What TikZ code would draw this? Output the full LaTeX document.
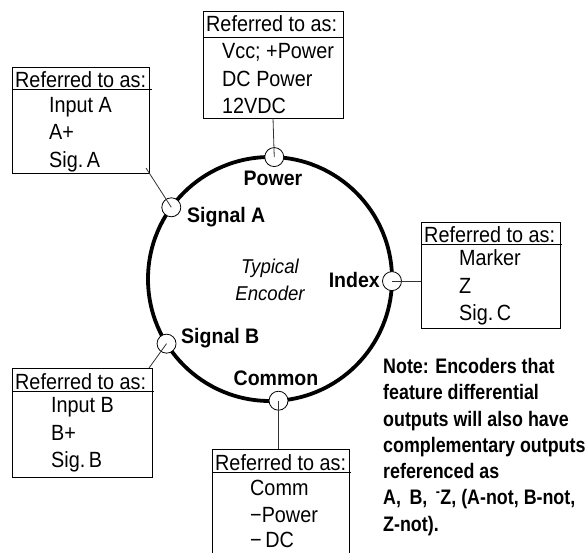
\documentclass[tikz,border=0pt]{standalone}
\usepackage{fontspec}
\setmainfont[FakeStretch=0.9]{Liberation Sans}
\newfontfamily\notefont[FakeStretch=0.85]{Liberation Sans}
\newfontfamily\lblfont[FakeStretch=0.93]{Liberation Sans}
\begin{document}
\begin{tikzpicture}[x=1pt,y=-1pt,
  refbox/.style={draw=black, line width=0.8pt, anchor=north west, inner sep=0pt, outer sep=0pt},
  hdrline/.style={draw=black, line width=0.8pt},
  hd/.style={anchor=base west, inner sep=0pt, font=\fontsize{22}{26}\selectfont},
  itm/.style={anchor=base west, inner sep=0pt, font=\fontsize{22}{26}\selectfont},
  lbl/.style={inner sep=0pt, font=\fontsize{21}{25}\lblfont\bfseries},
  enc/.style={draw=black, line width=3.8pt, circle, minimum size=244pt, inner sep=0pt, outer sep=0pt},
  pin/.style={draw=black, line width=0.8pt, fill=white, circle, minimum size=19pt, inner sep=0pt, outer sep=0pt},
  conn/.style={draw=black!80, line width=0.8pt},
  notel/.style={anchor=base west, inner sep=0pt, font=\fontsize{21}{25}\notefont\bfseries},
  ital/.style={anchor=base, inner sep=0pt, font=\fontsize{20}{24}\lblfont\itshape}
]
\clip (0,0) rectangle (588,552);
\fill[white] (0,0) rectangle (588,552);

% encoder body
\node[enc] (encoder) at (270,279) {};
\node[pin] (pw) at (encoder.88.6) {};
\node[pin] (sa) at (encoder.144.6) {};
\node[pin] (ix) at (encoder.-1.4) {};
\node[pin] (sb) at (encoder.212) {};
\node[pin] (cm) at (encoder.-86.7) {};

\node[ital] (typ) at (270,273) {Typical};
\node[ital] (encl) at (270,300) {Encoder};

\node[lbl, anchor=base] (lpw) at (273,185) {Power};
\node[lbl, anchor=base west] (lsa) at (187,222) {Signal A};
\node[lbl, anchor=base east] (lix) at (380,287) {Index};
\node[lbl, anchor=base west] (lsb) at (181,343) {Signal B};
\node[lbl, anchor=base] (lcm) at (276,385) {Common};

% box A
\node[refbox, minimum width=137pt, minimum height=106pt] (boxA) at (12,67) {};
\draw[hdrline] ([yshift=-22pt]boxA.north west) -- ([yshift=-22pt,xshift=3pt]boxA.north east);
\node[hd] (hA) at ([xshift=3pt,yshift=-20pt]boxA.north west) {Referred to as:};
\node[itm] (a1) at ([xshift=37pt,yshift=-45pt]boxA.north west) {Input A};
\node[itm] (a2) at ([xshift=37pt,yshift=-72pt]boxA.north west) {A+};
\node[itm] (a3) at ([xshift=37pt,yshift=-100pt]boxA.north west) {Sig.\,A};

% box Power
\node[refbox, minimum width=140pt, minimum height=107pt] (boxP) at (203,11) {};
\draw[hdrline] ([yshift=-26pt]boxP.north west) -- ([yshift=-26pt,xshift=1pt]boxP.north east);
\node[hd] (hP) at ([xshift=3pt,yshift=-20pt]boxP.north west) {Referred to as:};
\node[itm] (p1) at ([xshift=19pt,yshift=-47pt]boxP.north west) {Vcc; +Power};
\node[itm] (p2) at ([xshift=19pt,yshift=-75pt]boxP.north west) {DC Power};
\node[itm] (p3) at ([xshift=19pt,yshift=-102pt]boxP.north west) {12VDC};

% box Index
\node[refbox, minimum width=139pt, minimum height=106pt] (boxI) at (421,222) {};
\draw[hdrline] ([yshift=-22pt]boxI.north west) -- ([yshift=-22pt,xshift=2pt]boxI.north east);
\node[hd] (hI) at ([xshift=3pt,yshift=-20pt]boxI.north west) {Referred to as:};
\node[itm] (i1) at ([xshift=38pt,yshift=-43pt]boxI.north west) {Marker};
\node[itm] (i2) at ([xshift=38pt,yshift=-71pt]boxI.north west) {Z};
\node[itm] (i3) at ([xshift=38pt,yshift=-98pt]boxI.north west) {Sig.\,C};

% box B
\node[refbox, minimum width=140pt, minimum height=109pt] (boxB) at (12,368) {};
\draw[hdrline] ([yshift=-23pt]boxB.north west) -- ([yshift=-23pt,xshift=2pt]boxB.north east);
\node[hd] (hB) at ([xshift=3pt,yshift=-21pt]boxB.north west) {Referred to as:};
\node[itm] (b1) at ([xshift=39pt,yshift=-44pt]boxB.north west) {Input B};
\node[itm] (b2) at ([xshift=39pt,yshift=-72pt]boxB.north west) {B+};
\node[itm] (b3) at ([xshift=39pt,yshift=-99pt]boxB.north west) {Sig.\,B};

% box Common
\node[refbox, minimum width=137pt, minimum height=130pt] (boxC) at (212,449) {};
\draw[hdrline] ([yshift=-23pt]boxC.north west) -- ([yshift=-23pt,xshift=2pt]boxC.north east);
\node[hd] (hC) at ([xshift=3pt,yshift=-21pt]boxC.north west) {Referred to as:};
\node[itm] (c1) at ([xshift=38pt,yshift=-46pt]boxC.north west) {Comm};
\node[itm] (c2) at ([xshift=38pt,yshift=-73pt]boxC.north west) {−Power};
\node[itm] (c3) at ([xshift=38pt,yshift=-98pt]boxC.north west) {−\,DC};

% connectors
\draw[conn] ([xshift=-3pt,yshift=5pt]boxA.south east) -- (sa.center);
\draw[conn] (boxP.south) -- (pw.center);
\draw[conn] (ix.center) -- (ix.center -| boxI.west);
\draw[conn] ([xshift=-3pt]boxB.north east) -- (sb.center);
\draw[conn] (cm.center) -- (cm.center |- boxC.north);

% note
\node[notel] (n1) at (383,373) {Note: Encoders that};
\node[notel] (n2) at (383,399.5) {feature differential};
\node[notel] (n3) at (383,426) {outputs will also have};
\node[notel] (n4) at (383,452) {complementary outputs};
\node[notel] (n5) at (383,478) {referenced as};
\node[notel] (n6) at (383,504.5) {A,\, B,\, \textsuperscript{-}Z, (A-not, B-not,};
\node[notel] (n7) at (383,531) {Z-not).};
\end{tikzpicture}
\end{document}
